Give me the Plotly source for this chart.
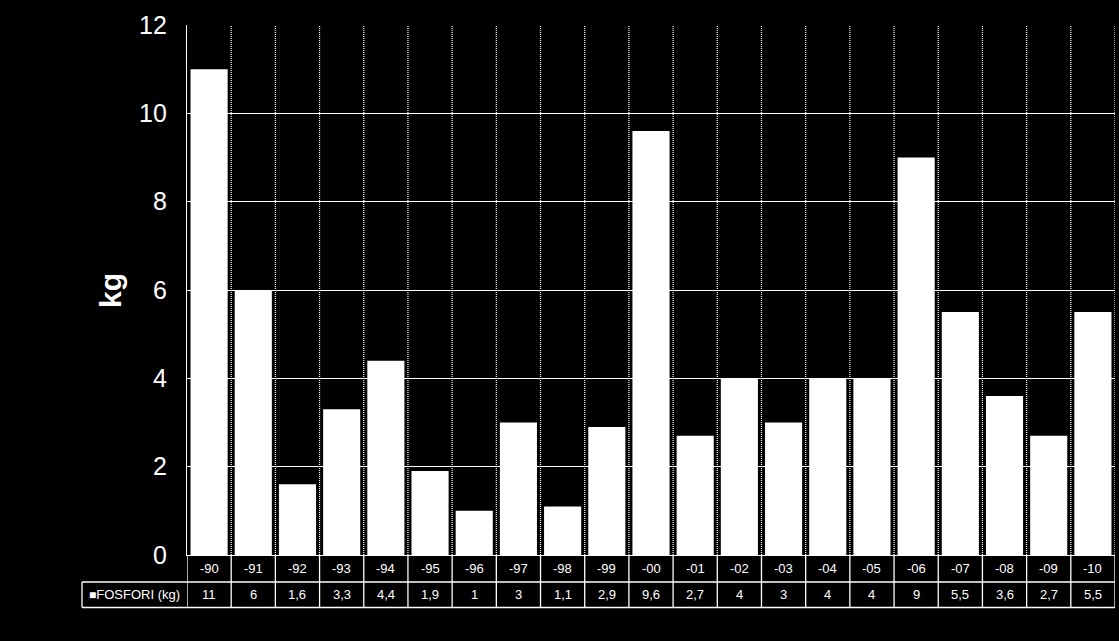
import plotly.graph_objects as go

YEARS = ['-90', '-91', '-92', '-93', '-94', '-95', '-96', '-97', '-98', '-99', '-00',
         '-01', '-02', '-03', '-04', '-05', '-06', '-07', '-08', '-09', '-10']
FOSFORI = [11, 6, 1.6, 3.3, 4.4, 1.9, 1, 3, 1.1, 2.9, 9.6,
           2.7, 4, 3, 4, 4, 9, 5.5, 3.6, 2.7, 5.5]
SERIES_NAME = 'FOSFORI (kg)'
Y_TICKS = [0, 2, 4, 6, 8, 10, 12]

FONT = 'Liberation Sans, Arial, sans-serif'

# table rows under the plot (paper coords)
ROW1 = -27 / 530
ROW2 = -52.5 / 530
LEG_X = (82 - 187) / 928

fig = go.Figure()
fig.add_trace(go.Bar(x=YEARS, y=FOSFORI, name=SERIES_NAME,
                     marker=dict(color='white', line_width=0)))

shapes = []
n = len(YEARS)
# dotted category separators inside the plot
for i in range(n):
    shapes.append(dict(type='line', xref='x', yref='paper', x0=i + 0.5, x1=i + 0.5,
                       y0=0, y1=1, layer='below',
                       line=dict(color='white', width=1.2, dash='1px,1px')))
# solid table grid
for i in range(n + 1):
    shapes.append(dict(type='line', xref='x', yref='paper', x0=i - 0.5, x1=i - 0.5,
                       y0=0, y1=ROW2, line=dict(color='white', width=1.3)))
shapes.append(dict(type='line', xref='paper', yref='paper', x0=LEG_X, x1=1,
                   y0=ROW1, y1=ROW1, line=dict(color='white', width=1.3)))
shapes.append(dict(type='line', xref='paper', yref='paper', x0=LEG_X, x1=1,
                   y0=ROW2, y1=ROW2, line=dict(color='white', width=1.3)))
shapes.append(dict(type='line', xref='paper', yref='paper', x0=LEG_X, x1=LEG_X,
                   y0=ROW1, y1=ROW2, line=dict(color='white', width=1.3)))

cell_font = dict(size=13, color='white', family=FONT)
annotations = []
# category index positions (numeric on a category axis)
for i, (year, val) in enumerate(zip(YEARS, FOSFORI)):
    annotations.append(dict(x=i, y=ROW1 / 2, xref='x', yref='paper', text=year,
                            xanchor='center', yanchor='middle',
                            showarrow=False, font=cell_font))
    label = ('%g' % val).replace('.', ',')
    annotations.append(dict(x=i, y=(ROW1 + ROW2) / 2, xref='x', yref='paper', text=label,
                            xanchor='center', yanchor='middle',
                            showarrow=False, font=cell_font))
annotations.append(dict(x=LEG_X / 2, y=(ROW1 + ROW2) / 2, xref='paper', yref='paper',
                        text='<span style="font-size:12px">■</span>' + SERIES_NAME,
                        xanchor='center', yanchor='middle',
                        showarrow=False, font=cell_font))
annotations.append(dict(x=-0.083, y=0.5, xref='paper', yref='paper', text='<b>kg</b>',
                        xanchor='center', yanchor='middle',
                        textangle=-90, showarrow=False,
                        font=dict(size=30, color='white', family=FONT)))

fig.update_layout(
    width=1119, height=641,
    margin=dict(l=187, r=4, t=25, b=86),
    paper_bgcolor='black', plot_bgcolor='black',
    bargap=0.16, showlegend=False,
    shapes=shapes, annotations=annotations,
    font=dict(family=FONT, color='white'),
)
fig.update_xaxes(type='category', range=[-0.5, n - 0.5], showticklabels=False,
                 showgrid=False, showline=True,
                 linecolor='white', linewidth=1.3, zeroline=False)
fig.update_yaxes(range=[0, 12], tickvals=Y_TICKS, showgrid=True, gridcolor='white',
                 gridwidth=1.2, showline=True, linecolor='white', linewidth=1.3,
                 zeroline=False, ticks='', ticklabelstandoff=14,
                 tickfont=dict(size=25, color='white', family=FONT))

fig.write_html("out.html", config={'displayModeBar': False},
               post_script="document.body.style.margin='0';document.body.style.background='black';")
